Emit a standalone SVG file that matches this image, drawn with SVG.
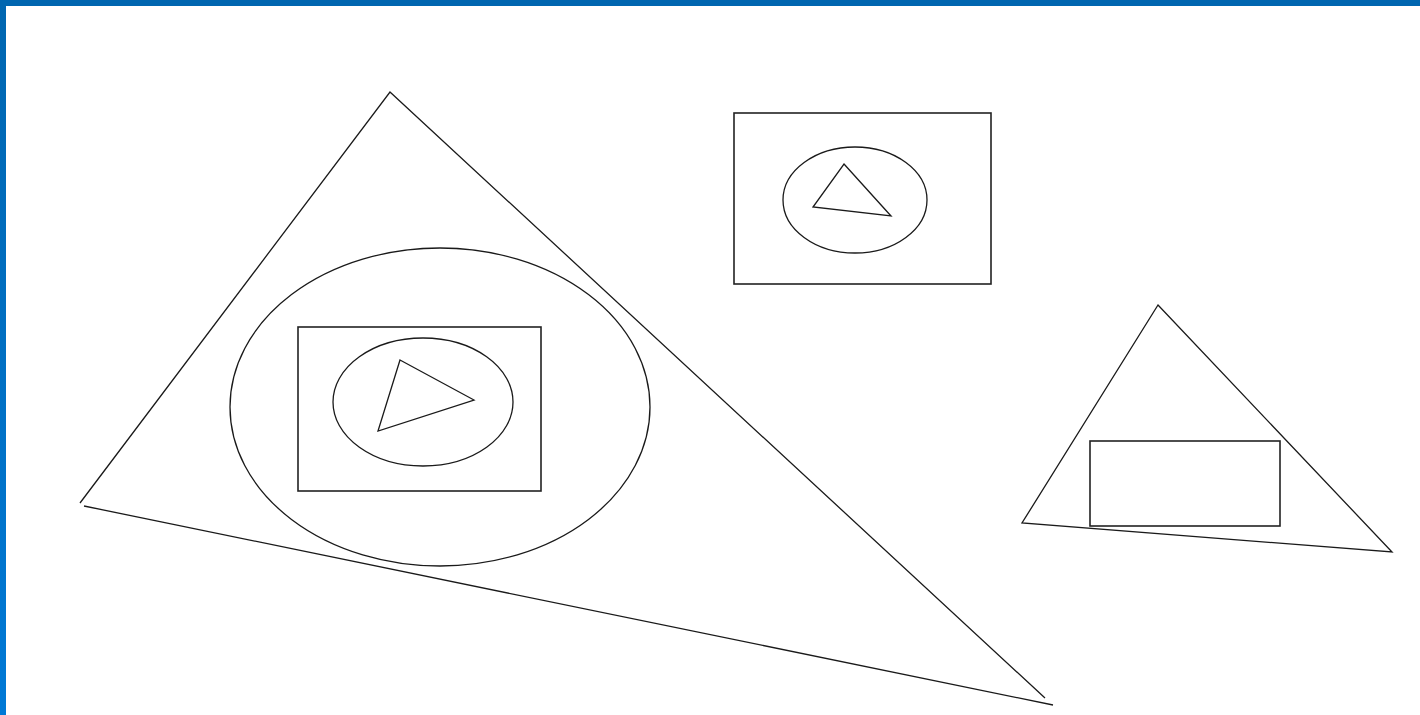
<svg xmlns="http://www.w3.org/2000/svg" width="1420" height="715" viewBox="0 0 1420 715">
  <defs>
    <linearGradient id="leftBar" x1="0" y1="0" x2="0" y2="1">
      <stop offset="0" stop-color="#0066b0"/>
      <stop offset="1" stop-color="#0079d6"/>
    </linearGradient>
    <style>
      .ln { fill: none; stroke: #1a1a1a; stroke-width: 1.3; stroke-linejoin: miter; }
      .bx { fill: none; stroke: #222; stroke-width: 1.6; }
    </style>
  </defs>
  <rect x="0" y="0" width="1420" height="715" fill="#ffffff"/>
  <rect x="0" y="0" width="6" height="715" fill="url(#leftBar)"/>
  <rect x="0" y="0" width="1420" height="6" fill="#0066b0"/>

  <g id="bigTriangleGroup">
    <polyline class="ln" points="1045,698 390,92 80,503"/>
    <line class="ln" x1="84" y1="506" x2="1053" y2="705"/>
    <ellipse class="ln" cx="440" cy="407" rx="210" ry="159"/>
    <rect class="bx" x="298" y="327" width="243" height="164"/>
    <ellipse class="ln" cx="423" cy="402" rx="90" ry="64"/>
    <polygon class="ln" points="400,360 474,400 378,431"/>
  </g>

  <g id="topRectGroup">
    <rect class="bx" x="734" y="113" width="257" height="171"/>
    <ellipse class="ln" cx="855" cy="200" rx="72" ry="53"/>
    <polygon class="ln" points="844,164 891,216 813,207"/>
  </g>

  <g id="rightTriangleGroup">
    <polygon class="ln" points="1158,305 1392,552 1022,523"/>
    <rect class="bx" x="1090" y="441" width="190" height="85"/>
  </g>
</svg>
